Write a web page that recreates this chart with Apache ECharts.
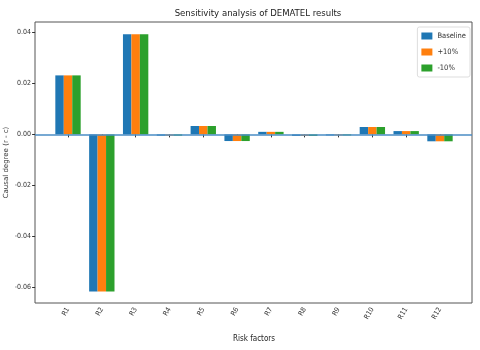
<!DOCTYPE html>
<html>
<head>
<meta charset="utf-8">
<script src="https://cdn.jsdelivr.net/npm/echarts@6/dist/echarts.min.js"></script>
<style>
  html, body { margin: 0; padding: 0; background: #fff; }
  #chart { width: 480px; height: 350px; }
</style>
</head>
<body>
<div id="chart"></div>
<script>
// 风险因素
const factors = ['R1', 'R2', 'R3', 'R4', 'R5', 'R6', 'R7', 'R8', 'R9', 'R10', 'R11', 'R12'];
// 三组数据（基线 / +10% / -10%）
const baseline = [0.0231, -0.0615, 0.0392, -0.0005, 0.0033, -0.0026, 0.0010, -0.0006, -0.0004, 0.0029, 0.0013, -0.0027];
const plus10 = [0.0231, -0.0615, 0.0392, -0.0005, 0.0033, -0.0026, 0.0010, -0.0006, -0.0004, 0.0029, 0.0013, -0.0027];
const minus10 = [0.0231, -0.0615, 0.0392, -0.0005, 0.0033, -0.0026, 0.0010, -0.0006, -0.0004, 0.0029, 0.0013, -0.0027];
const yTicks = [-0.06, -0.04, -0.02, 0.00, 0.02, 0.04];
const yMin = -0.066, yMax = 0.044;

const chart = echarts.init(document.getElementById('chart'));
const narrow = '"DejaVu Sans Condensed", "Liberation Sans", sans-serif';

chart.setOption({
  animation: false,
  color: ['#1f77b4', '#ff7f0e', '#2ca02c'],
  title: {
    text: 'Sensitivity analysis of DEMATEL results',
    left: 253, top: 4, textAlign: 'center',
    textStyle: { fontFamily: narrow, fontSize: 9.5, fontWeight: 'normal', color: '#222' }
  },
  legend: {
    orient: 'vertical',
    right: 10, top: 27,
    itemWidth: 11, itemHeight: 7, itemGap: 8,
    padding: [5, 4, 5, 4],
    borderColor: '#ddd', borderWidth: 1, borderRadius: 2,
    icon: 'rect',
    textStyle: { fontFamily: narrow, fontSize: 7.5, color: '#333' },
    data: ['Baseline', '+10%', '-10%']
  },
  grid: [
    { left: 51.1, right: 23.1, top: 22, bottom: 47, outerBoundsMode: 'none', containLabel: false },
    { left: 35, right: 8, top: 22, bottom: 47, outerBoundsMode: 'none', containLabel: false,
      show: true, borderColor: '#555', borderWidth: 1, backgroundColor: 'transparent' }
  ],
  xAxis: [
    {
      type: 'category', gridIndex: 0, data: factors,
      axisLine: { show: false },
      axisTick: { show: true, alignWithLabel: true, length: 3, lineStyle: { color: '#333' } },
      axisLabel: { rotate: 60, fontFamily: narrow, fontSize: 7, color: '#333', margin: 5 },
      name: 'Risk factors', nameLocation: 'middle', nameGap: 32, nameMoveOverlap: false,
      nameTextStyle: { fontFamily: narrow, fontSize: 8, color: '#222' }
    },
    { type: 'value', gridIndex: 1, min: 0, max: 1, show: false }
  ],
  yAxis: [
    {
      type: 'value', gridIndex: 0, min: yMin, max: yMax, offset: 16,
      axisLine: { show: false },
      splitLine: { show: false },
      axisTick: { show: true, length: 3, customValues: yTicks, lineStyle: { color: '#333' } },
      axisLabel: {
        customValues: yTicks, fontFamily: narrow, fontSize: 7, color: '#333', margin: 4,
        formatter: v => v.toFixed(2)
      },
      name: 'Causal degree (r - c)', nameLocation: 'middle', nameGap: 25, nameMoveOverlap: false,
      nameTextStyle: { fontFamily: 'DejaVu Sans', fontSize: 7, color: '#333' }
    },
    { type: 'value', gridIndex: 1, min: yMin, max: yMax, show: false }
  ],
  series: [
    { name: 'Baseline', type: 'bar', data: baseline, barWidth: '25%', barGap: '0%' },
    { name: '+10%', type: 'bar', data: plus10, barWidth: '25%', barGap: '0%' },
    { name: '-10%', type: 'bar', data: minus10, barWidth: '25%', barGap: '0%' },
    {
      type: 'line', xAxisIndex: 1, yAxisIndex: 1, data: [],
      markLine: {
        silent: true, symbol: 'none', label: { show: false },
        lineStyle: { color: '#4a8cc4', width: 1.5, type: 'solid' },
        data: [{ yAxis: 0 }]
      }
    }
  ]
});
</script>
</body>
</html>
